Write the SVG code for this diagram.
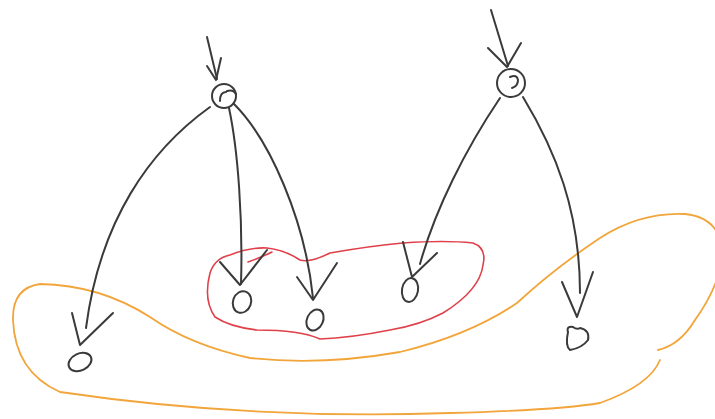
<svg xmlns="http://www.w3.org/2000/svg" width="715" height="419" viewBox="0 0 715 419">
<style>
.ink{fill:none;stroke:#3a3a3a;stroke-width:2;stroke-linecap:round;stroke-linejoin:round}
.node{fill:none;stroke:#3a3a3a;stroke-width:2}
.red{fill:none;stroke:#e0404a;stroke-width:1.6;stroke-linecap:round;stroke-linejoin:round}
.orange{fill:none;stroke:#f2a53a;stroke-width:1.8;stroke-linecap:round;stroke-linejoin:round}
</style>
<rect width="715" height="419" fill="#ffffff"/>
<g id="group-orange">
<path class="orange" d="M658,350 Q680,345 695,320 Q720,285 722,255 Q722,218 685,214 Q640,212 600,238 Q555,268 517,303 Q470,335 400,352 Q320,366 250,358 Q190,345 150,317 Q100,285 40,284 Q12,288 13,320 Q15,372 60,392 Q250,420 450,413 Q560,410 600,403 Q650,385 660,360"/>
</g>
<g id="group-red">
<path class="red" d="M210,273 Q215,258 230,255 Q250,247 267,248 Q285,250 300,260 Q310,263 330,253 Q370,246 403,243 Q445,240 473,243 Q487,248 483,265 Q480,290 443,313 Q420,325 390,330 Q350,338 320,339 Q300,330 257,330 Q230,327 215,317 Q203,300 210,273 Z"/>
<path class="red" d="M248,262 Q262,257 272,252"/>
</g>
<g id="connectors">
<path class="ink" d="M207,37 L217,79"/>
<path class="ink" d="M207,66 L216,80 L221,58"/>
<path class="ink" d="M491,10 L508,66"/>
<path class="ink" d="M488,48 L507,67 L521,43"/>
<path class="ink" d="M210,107 C150,150 100,220 86,328"/>
<path class="ink" d="M72,313 L80,345 L113,313"/>
<path class="ink" d="M229,108 C238,150 243,220 241,284"/>
<path class="ink" d="M220,262 L240,285 L267,250"/>
<path class="ink" d="M234,104 C270,140 305,220 313,298"/>
<path class="ink" d="M297,277 L313,300 L337,263"/>
<path class="ink" d="M500,98 C465,150 435,210 420,264"/>
<path class="ink" d="M403,242 L412,277 L437,253"/>
<path class="ink" d="M523,97 C555,150 580,210 580,293"/>
<path class="ink" d="M562,282 L577,317 L593,272"/>
</g>
<g id="root1">
<circle class="node" cx="224" cy="96" r="12"/>
<path class="ink" d="M226,92 Q220,92 220,101 M227,91 Q233,89 236,94"/>
</g>
<g id="root2">
<circle class="node" cx="511" cy="83" r="14"/>
<path class="ink" d="M510,77 Q517,74 518,80 Q518,86 512,88"/>
</g>
<g id="leafD">
<ellipse class="node" cx="80" cy="362" rx="12" ry="8.5" transform="rotate(-25 80 362)"/>
</g>
<g id="leafA">
<ellipse class="node" cx="242" cy="302" rx="9" ry="11" transform="rotate(20 242 302)"/>
</g>
<g id="leafB">
<ellipse class="node" cx="315" cy="320" rx="8" ry="11" transform="rotate(25 315 320)"/>
</g>
<g id="leafC">
<ellipse class="node" cx="410" cy="290" rx="8" ry="12" transform="rotate(10 410 290)"/>
</g>
<g id="leafE">
<path class="node" d="M568,332 Q566,326 573,327 Q577,330 580,328 Q590,330 588,340 Q582,348 570,350 Q565,346 568,332 Z"/>
</g>
</svg>
